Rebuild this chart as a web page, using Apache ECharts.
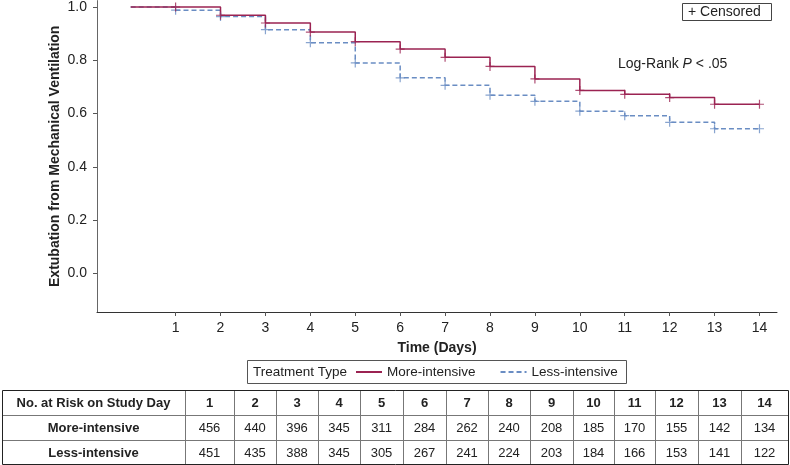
<!DOCTYPE html>
<html>
<head>
<meta charset="utf-8">
<script src="https://cdn.jsdelivr.net/npm/echarts@6/dist/echarts.min.js"></script>
<style>
html,body{margin:0;padding:0;background:#fff;}
#chart{width:790px;height:465px;}
</style>
</head>
<body>
<div id="chart"></div>
<script>
// ---- data ----
const days = [0,1,2,3,4,5,6,7,8,9,10,11,12,13,14];
const moreSurv = [1.000,1.000,0.969,0.940,0.906,0.870,0.842,0.811,0.777,0.730,0.687,0.672,0.660,0.635,0.635];
const lessSurv = [1.000,0.988,0.964,0.915,0.866,0.790,0.734,0.706,0.669,0.646,0.609,0.592,0.567,0.543,0.543];
const censorDays = [1,2,3,4,5,6,7,8,9,10,11,12,13,14];
const xTicks = [1,2,3,4,5,6,7,8,9,10,11,12,13,14];
const yTicks = [0,0.2,0.4,0.6,0.8,1.0];
const tableDays = [1,2,3,4,5,6,7,8,9,10,11,12,13,14];
const moreAtRisk = [456,440,396,345,311,284,262,240,208,185,170,155,142,134];
const lessAtRisk = [451,435,388,345,305,267,241,224,203,184,166,153,141,122];
const seriesNames = ['More-intensive','Less-intensive'];

// ---- styles ----
const RED = '#9b2352';
const BLUE = '#6a8dc3';
const FONT = '"Liberation Sans", Arial, Helvetica, sans-serif';
const TXT = '#222';

const moreLine = days.map((d,i)=>[d, moreSurv[i]]);
const lessLine = days.map((d,i)=>[d, lessSurv[i]]);
const moreCens = censorDays.map(d=>[d, moreSurv[days.indexOf(d)]]);
const lessCens = censorDays.map(d=>[d, lessSurv[days.indexOf(d)]]);

// ---- table graphic (layout) ----
const colEdges = [2,185,234,276,318,360,403,446,488,530,573,614,655,698,741,788];
const rowEdges = [390,415,440,464];
const tableRows = [
  {label:'No. at Risk on Study Day', vals: tableDays, bold:true},
  {label:seriesNames[0], vals: moreAtRisk, bold:false},
  {label:seriesNames[1], vals: lessAtRisk, bold:false}
];
const g = [];
for (let c = 1; c < colEdges.length-1; c++) {
  g.push({type:'line', shape:{x1:colEdges[c]+0.5,y1:rowEdges[0],x2:colEdges[c]+0.5,y2:rowEdges[rowEdges.length-1]}, style:{stroke:'#777',lineWidth:1}});
}
for (let r = 1; r < rowEdges.length-1; r++) {
  g.push({type:'line', shape:{x1:colEdges[0],y1:rowEdges[r]+0.5,x2:colEdges[colEdges.length-1],y2:rowEdges[r]+0.5}, style:{stroke:'#777',lineWidth:1}});
}
g.push({type:'rect', shape:{x:colEdges[0]+0.5,y:rowEdges[0]+0.5,width:colEdges[colEdges.length-1]-colEdges[0],height:rowEdges[rowEdges.length-1]-rowEdges[0]}, style:{fill:'none',stroke:'#222',lineWidth:1}});
tableRows.forEach((row, r) => {
  const cy = (rowEdges[r]+rowEdges[r+1])/2 + 1;
  g.push({type:'text', style:{text:row.label, x:(colEdges[0]+colEdges[1])/2, y:cy, align:'center', verticalAlign:'middle', font:'bold 13px '+FONT, fill:TXT}});
  row.vals.forEach((v, c) => {
    g.push({type:'text', style:{text:String(v), x:(colEdges[c+1]+colEdges[c+2])/2, y:cy, align:'center', verticalAlign:'middle', font:(row.bold?'bold 13px ':'13px ')+FONT, fill:TXT}});
  });
});
// legend box + title
g.push({type:'rect', shape:{x:247.5,y:360.5,width:379,height:23}, style:{fill:'none',stroke:'#555',lineWidth:1}});
g.push({type:'text', style:{text:'Treatment Type', x:253, y:372, verticalAlign:'middle', font:'13.5px '+FONT, fill:TXT}});
// censored box
g.push({type:'rect', shape:{x:682.5,y:3.5,width:89,height:17}, style:{fill:'none',stroke:'#444',lineWidth:1}});
g.push({type:'text', style:{text:'+ Censored', x:688, y:12.5, verticalAlign:'middle', font:'14px '+FONT, fill:TXT}});
// log-rank annotation
g.push({type:'text', style:{
  text:'{a|Log-Rank }{i|P}{a| < .05}', x:618, y:64, verticalAlign:'middle',
  rich:{a:{font:'14px '+FONT, fill:TXT}, i:{font:'italic 14px '+FONT, fill:TXT}}
}});

const chart = echarts.init(document.getElementById('chart'), null, {renderer:'canvas'});
const plus = 'path://M5,0L5,10M0,5L10,5';
chart.setOption({
  animation:false,
  backgroundColor:'#fff',
  grid:{left:97, right:13, top:0, bottom:153, containLabel:false},
  xAxis:{
    type:'value', min:-0.75, max:14.39,
    name:'Time (Days)', nameLocation:'middle', nameGap:29, nameMoveOverlap:false,
    nameTextStyle:{fontFamily:FONT, fontWeight:'bold', fontSize:14, color:TXT},
    axisLine:{show:true, onZero:false, lineStyle:{color:'#333', width:1}},
    axisTick:{show:true, length:4, customValues:xTicks, lineStyle:{color:'#555'}},
    axisLabel:{customValues:xTicks, fontFamily:FONT, fontSize:14, color:TXT, margin:9},
    splitLine:{show:false}
  },
  yAxis:{
    type:'value', min:-0.145, max:1.024,
    name:'Extubation from Mechanical Ventilation', nameLocation:'middle', nameGap:35, nameMoveOverlap:false,
    nameTextStyle:{fontFamily:FONT, fontWeight:'bold', fontSize:14, color:TXT},
    axisLine:{show:true, onZero:false, lineStyle:{color:'#666', width:1}},
    axisTick:{show:true, length:4, customValues:yTicks, lineStyle:{color:'#555'}},
    axisLabel:{customValues:yTicks, fontFamily:FONT, fontSize:14, color:TXT, margin:10,
      formatter:v=>v.toFixed(1)},
    splitLine:{show:false}
  },
  legend:{
    data:seriesNames, left:350, top:360, padding:5, itemWidth:26, itemHeight:13, itemGap:24,
    itemStyle:{opacity:0},
    textStyle:{fontFamily:FONT, fontSize:13.5, color:TXT}, selectedMode:false
  },
  graphic:g,
  series:[
    {name:seriesNames[1], type:'line', step:'end', data:lessLine, symbol:'none', z:2,
      lineStyle:{color:BLUE, width:1.5, type:[5,3]}, itemStyle:{color:BLUE}},
    {name:seriesNames[0], type:'line', step:'end', data:moreLine, symbol:'none', z:3,
      lineStyle:{color:RED, width:1.5}, itemStyle:{color:RED}},
    {name:'lessCens', type:'scatter', data:lessCens, symbol:plus, symbolSize:9, z:4,
      itemStyle:{color:'transparent', borderColor:BLUE, borderWidth:1.2}},
    {name:'moreCens', type:'scatter', data:moreCens, symbol:plus, symbolSize:9, z:5,
      itemStyle:{color:'transparent', borderColor:RED, borderWidth:1.2}}
  ]
});
</script>
</body>
</html>
